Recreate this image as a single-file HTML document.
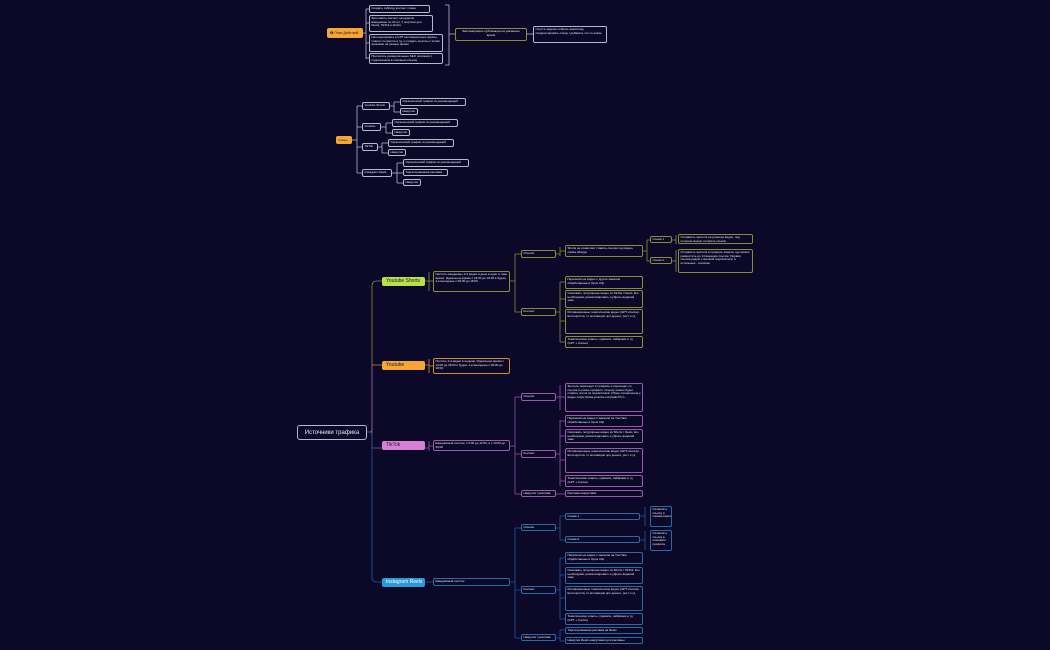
<!DOCTYPE html>
<html><head><meta charset="utf-8"><style>
html,body{margin:0;padding:0}
body{width:1050px;height:650px;background:#0c0828;position:relative;overflow:hidden;font-family:"Liberation Sans","Noto Sans CJK SC",sans-serif;color:#e8e8f0}
.b{position:absolute;box-sizing:border-box;border:1px solid #b8b8c8;border-radius:2px;font-size:3px;line-height:3.6px;padding:1px 1.5px;overflow:hidden;background:#0c0828}
.o{border-color:#8a8c3a}.or{border-color:#d08a30}.p{border-color:#9a5aa8}.bl{border-color:#2a6aa8}
.t{position:absolute;box-sizing:border-box;border-radius:2px;font-size:5px;line-height:9px;padding-left:4px;color:#222;white-space:nowrap}
svg{position:absolute;left:0;top:0}
</style></head><body>
<svg width="1050" height="650" fill="none" stroke-width="0.8">
<g stroke="#b8b8c8">
<path d="M363 33 H366 M366 9 V59 M366 9H369 M366 23H369 M366 43H369 M366 58H369"/>
<path d="M445 5 H449 V65 H445 M449 34 H455"/>
<path d="M527 34 H533"/>
<path d="M352 140 H357 M357 106 V173 M357 106H362 M357 127H362 M357 147H362 M357 173H362"/>
<path d="M390 106 H394 M394 102 V112 M394 102H400 M394 112H400"/>
<path d="M381 127 H386 M386 123 V133 M386 123H392 M386 133H392"/>
<path d="M378 147 H382 M382 143 V153 M382 143H388 M382 153H388"/>
<path d="M392 173 H397 M397 163 V183 M397 163H403 M397 173H403 M397 183H403"/>
</g>
<g stroke="#8a8c3a">
<path d="M367 432 H370 Q372 432 372 428 V286 Q372 281 377 281 H382"/>
<path d="M425 281 H429 M429 272 V291 M429 281 H433"/>
<path d="M510 281 H515 M515 254 V312 M515 254 H521 M515 312 H521"/>
<path d="M556 254 H560 M560 247 V256 M560 251H565"/>
<path d="M643 251 H647 M647 240 V261 M647 240 H650 M647 261 H650 M672 240 H676 M676 235V244 M672 261 H676 M676 250 V272"/>
<path d="M556 312 H560 M560 282 V342 M560 282H565 M560 299H565 M560 321H565 M560 342H565"/>
</g>
<g stroke="#d08a30"><path d="M372 365 H382 M425 365 H429 M429 359V373 M429 366H433"/></g>
<g stroke="#8a5aa8">
<path d="M372 365 V448 H382 M425 448 H429 M429 441V451 M429 446 H433"/>
<path d="M510 446 H515 M515 397 V494 M515 397 H521 M515 454 H521 M515 494 H521"/>
<path d="M556 397 H560 M560 385 V410 M560 397H565 M556 454 H560 M560 420V486 M560 421H565 M560 436H565 M560 460H565 M560 481H565 M556 494H565"/>
</g>
<g stroke="#1e5a9a">
<path d="M367 432 H370 Q372 432 372 436 V578 Q372 582 377 582 H382"/>
<path d="M425 582 H433 M510 582 H515 M515 528 V638 M515 528H521 M515 590H521 M515 638H521"/>
<path d="M556 528 H560 M560 516 V540 M560 516H565 M560 540H565"/>
<path d="M640 516 H645 M645 507V526 M640 540 H645 M645 531 V550"/>
<path d="M556 590 H560 M560 558 V619 M560 558H565 M560 575H565 M560 598H565 M560 619H565 M556 638 H560 M560 630V641 M560 630H565 M560 641H565"/>
</g>
</svg>

<div class="t" style="left:327px;top:28px;width:36px;height:10px;background:#f5a637;font-size:3.4px;line-height:10px;padding-left:3px">✿ План Действий</div>
<div class="b" style="left:369px;top:5px;width:61px;height:8px">Создать таблицу контент плана</div>
<div class="b" style="left:369px;top:15px;width:64px;height:17px">Заготовить контент на неделю. Ежедневно по 10 шт. 7 шортсов для Reels, TikTok и shorts</div>
<div class="b" style="left:369px;top:34px;width:74px;height:18px">Нагенерировать в GPT мотивационные фразы, советы по крипте и тд, и создать шортсы с этими фразами на разных фонах</div>
<div class="b" style="left:369px;top:53px;width:74px;height:11px">Прописать универсальные SEO описания с подписанием в описании ссылки</div>
<div class="b o" style="left:455px;top:28px;width:72px;height:13px;text-align:center">Запланировать публикации на указанное время</div>
<div class="b" style="left:533px;top:26px;width:74px;height:17px">Спустя неделю собрать аналитику, скорректировать схему / добавить что-то новое</div>

<div class="t" style="left:336px;top:136px;width:16px;height:8px;background:#f5a637;font-size:3px;line-height:8px;padding-left:2px">Схемы</div>
<div class="b" style="left:362px;top:102px;width:28px;height:8px;white-space:nowrap">Youtube Shorts</div>
<div class="b" style="left:400px;top:98px;width:66px;height:8px;white-space:nowrap">Органический трафик из рекомендаций</div>
<div class="b" style="left:400px;top:108px;width:18px;height:7px">Накрутки</div>
<div class="b" style="left:362px;top:123px;width:19px;height:8px">Youtube</div>
<div class="b" style="left:392px;top:119px;width:66px;height:8px;white-space:nowrap">Органический трафик из рекомендаций</div>
<div class="b" style="left:392px;top:129px;width:18px;height:7px">Накрутки</div>
<div class="b" style="left:362px;top:143px;width:16px;height:8px">TikTok</div>
<div class="b" style="left:388px;top:139px;width:66px;height:8px;white-space:nowrap">Органический трафик из рекомендаций</div>
<div class="b" style="left:388px;top:149px;width:18px;height:7px">Накрутки</div>
<div class="b" style="left:362px;top:169px;width:30px;height:8px;white-space:nowrap">Instagram Reels</div>
<div class="b" style="left:403px;top:159px;width:66px;height:8px;white-space:nowrap">Органический трафик из рекомендаций</div>
<div class="b" style="left:403px;top:169px;width:45px;height:7px;white-space:nowrap">Таргетированная реклама</div>
<div class="b" style="left:403px;top:179px;width:18px;height:7px">Накрутки</div>

<div class="b" style="left:297px;top:425px;width:70px;height:15px;font-size:6px;line-height:12px;text-align:center;border-radius:3px">Источники трафика</div>

<div class="t" style="left:382px;top:277px;width:43px;height:9px;background:#b8e04a">Youtube Shorts</div>
<div class="b o" style="left:433px;top:271px;width:77px;height:21px">Постить ежедневно 2-3 видео в день в одно и тоже время. Идеальное время с 15:00 до 18:00 в будни, а в выходные с 09:00 до 18:00</div>
<div class="b o" style="left:521px;top:250px;width:35px;height:8px">Ссылки</div>
<div class="b o" style="left:521px;top:308px;width:35px;height:8px">Контент</div>
<div class="b o" style="left:565px;top:245px;width:78px;height:12px">Shorts не позволяет ставить ссылки под видео, схема обхода:</div>
<div class="b o" style="left:650px;top:236px;width:22px;height:7px">Схема 1</div>
<div class="b o" style="left:650px;top:257px;width:22px;height:7px">Схема 2</div>
<div class="b o" style="left:678px;top:234px;width:75px;height:10px">Отправить зрителя на длинное видео, под которым можно оставить ссылки</div>
<div class="b o" style="left:678px;top:249px;width:75px;height:24px">Отправить зрителя в профиль канала, где можно разместить до 14 внешних ссылок. Первая ссылка рядом с кнопкой подписаться, а остальные - списком.</div>
<div class="b o" style="left:565px;top:276px;width:78px;height:13px">Перезалитые видео с других каналов обработанные в Opus Clip.</div>
<div class="b o" style="left:565px;top:290px;width:78px;height:18px">Скачивать популярные видео из TikTok / Reels. Его необходимо уникализировать и убрать водяной знак.</div>
<div class="b o" style="left:565px;top:309px;width:78px;height:25px">Мотивационные тематические видео (GPT+Canva). Если крипта, то мотивация про деньги, рост и тд</div>
<div class="b o" style="left:565px;top:336px;width:78px;height:12px">Тематические советы, правила, лайфхаки и тд (GPT + Canva)</div>

<div class="t" style="left:382px;top:361px;width:43px;height:9px;background:#f5a637">Youtube</div>
<div class="b or" style="left:433px;top:358px;width:77px;height:16px">Постить 2-3 видео в неделю. Идеальное время с 14:00 до 18:00 в будни, а в выходные с 09:00 до 18:00.</div>

<div class="t" style="left:382px;top:441px;width:43px;height:9px;background:#d77fd6">TikTok</div>
<div class="b p" style="left:433px;top:440px;width:77px;height:11px">Ежедневный постинг, с 6:00 до 12:00, и с 19:00 до 23:00</div>
<div class="b p" style="left:521px;top:393px;width:35px;height:8px">Ссылки</div>
<div class="b p" style="left:521px;top:450px;width:35px;height:8px">Контент</div>
<div class="b p" style="left:521px;top:490px;width:35px;height:7px;white-space:nowrap">Накрутки / реклама</div>
<div class="b p" style="left:565px;top:383px;width:78px;height:29px">Зритель переходит в профиль и переходит по ссылке в шапке профиля. Ссылку можно будет ставить после 1к подписчиков. Обзор ограничения к видео: https://www.youtube.com/watch?v=...</div>
<div class="b p" style="left:565px;top:415px;width:78px;height:12px">Перезалитые видео с каналов на YouTube обработанные в Opus Clip.</div>
<div class="b p" style="left:565px;top:429px;width:78px;height:14px">Скачивать популярные видео из Shorts / Reels. Его необходимо уникализировать и убрать водяной знак.</div>
<div class="b p" style="left:565px;top:448px;width:78px;height:25px">Мотивационные тематические видео (GPT+Canva). Если крипта, то мотивация про деньги, рост и тд</div>
<div class="b p" style="left:565px;top:475px;width:78px;height:12px">Тематические советы, правила, лайфхаки и тд (GPT + Canva)</div>
<div class="b p" style="left:565px;top:490px;width:78px;height:7px">Реклама накрутками</div>

<div class="t" style="left:382px;top:578px;width:43px;height:9px;background:#2a9ad8;color:#fff">Instagram Reels</div>
<div class="b bl" style="left:433px;top:578px;width:77px;height:8px">Ежедневный постинг</div>
<div class="b bl" style="left:521px;top:524px;width:35px;height:7px">Ссылки</div>
<div class="b bl" style="left:521px;top:586px;width:35px;height:8px">Контент</div>
<div class="b bl" style="left:521px;top:634px;width:35px;height:7px;white-space:nowrap">Накрутки / реклама</div>
<div class="b bl" style="left:565px;top:513px;width:75px;height:7px">Схема 1</div>
<div class="b bl" style="left:565px;top:536px;width:75px;height:7px">Схема 2</div>
<div class="b bl" style="left:650px;top:506px;width:22px;height:21px">Оставлять ссылку в комментарии</div>
<div class="b bl" style="left:650px;top:530px;width:22px;height:21px">Оставлять ссылку в описании профиля</div>
<div class="b bl" style="left:565px;top:552px;width:78px;height:12px">Перезалитые видео с каналов на YouTube обработанные в Opus Clip.</div>
<div class="b bl" style="left:565px;top:567px;width:78px;height:17px">Скачивать популярные видео из Shorts / TikTok. Его необходимо уникализировать и убрать водяной знак.</div>
<div class="b bl" style="left:565px;top:586px;width:78px;height:25px">Мотивационные тематические видео (GPT+Canva). Если крипта, то мотивация про деньги, рост и тд</div>
<div class="b bl" style="left:565px;top:613px;width:78px;height:12px">Тематические советы, правила, лайфхаки и тд (GPT + Canva)</div>
<div class="b bl" style="left:565px;top:627px;width:78px;height:7px">Таргетированная реклама на Reels</div>
<div class="b bl" style="left:565px;top:637px;width:78px;height:7px">Накрутки Reels накрутками для рекламы</div>
</body></html>
